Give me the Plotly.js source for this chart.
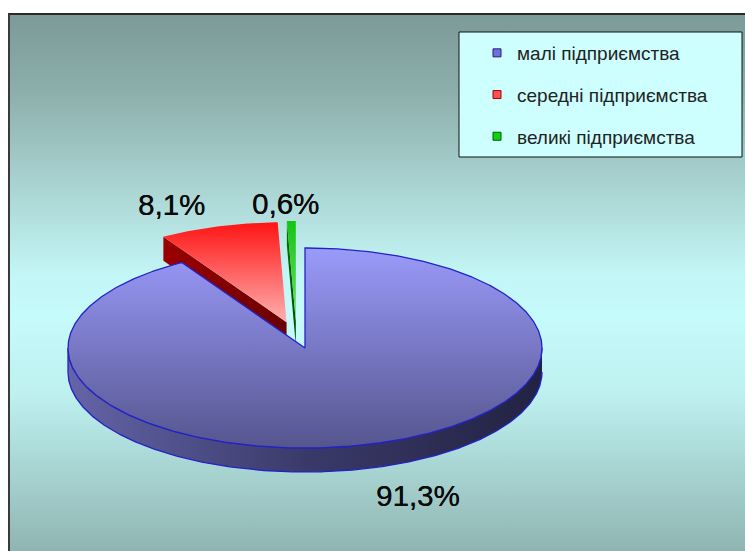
<!DOCTYPE html>
<html>
<head>
<meta charset="utf-8">
<script src="https://cdn.plot.ly/plotly-3.0.1.min.js"></script>
<style>
  html, body { margin: 0; padding: 0; background: #ffffff; width: 745px; height: 551px; overflow: hidden; }
  #bg {
    position: absolute; left: 8px; top: 13px; width: 737px; height: 538px;
    border-left: 2px solid #3a3a3a; border-top: 2px solid #2a2a2a; box-sizing: border-box;
    background: linear-gradient(to bottom, #7c9a97 0px, #8db0ad 80px, #a9d3d1 170px, #c3f6f6 260px, #c6fbfb 300px, #bdf0ef 380px, #a9d6d4 450px, #8fb4b1 538px);
  }
  #chart { position: absolute; left: 0; top: 0; width: 745px; height: 551px; }
</style>
</head>
<body>
<div id="bg"></div>
<div id="chart"></div>
<script>
// ---- data ----
const categories = ['малі підприємства', 'середні підприємства', 'великі підприємства'];
const shares = [91.3, 8.1, 0.6];

// ---- styling / geometry (pixel-calibrated axes) ----
const W = 745, H = 551;
const CX = 305, CY = 348, RX = 237, RY = 100, DEPTH = 24;
const explode = [0, 0.27, 0.27];
const extraShiftX = [0, 0, -8];
const topColors = [['#9a9afa', '#55558e'], ['#ff1414', '#ffb0b0'], ['#14c414', '#6ee06e']];
const wallColors = [['#6464a8', '#3a3a6a', '#222242'], ['#9a0000', '#6a0000'], ['#007000', '#004a00']];
const legendColors = ['#7070d8', '#ff5050', '#10d010'];
const legendLine = ['#202080', '#a00000', '#006000'];
const labelPos = [[418, 495], [171, 204], [285, 203]];

const total = shares.reduce((a, b) => a + b, 0);
const rad = d => d * Math.PI / 180;
function P(cx, cy, a, dz) { return [cx + RX * Math.sin(rad(a)), cy - RY * Math.cos(rad(a)) + (dz || 0)]; }
function arc(cx, cy, a0, a1, dz) {
  const pts = []; const n = Math.max(2, Math.ceil(Math.abs(a1 - a0) / 0.5));
  for (let i = 0; i <= n; i++) pts.push(P(cx, cy, a0 + (a1 - a0) * i / n, dz));
  return pts;
}

const slices = [];
let acc = 0;
shares.forEach((v, i) => {
  const a0 = acc / total * 360; acc += v; const a1 = acc / total * 360;
  const mid = (a0 + a1) / 2;
  const cx = CX + explode[i] * RX * Math.sin(rad(mid)) + extraShiftX[i];
  const cy = CY - explode[i] * RY * Math.cos(rad(mid));
  slices.push({ i, a0, a1, cx, cy });
});

const traces = [];
function poly(pts, extra) {
  const t = Object.assign({ x: pts.map(p => p[0]), y: pts.map(p => p[1]), type: 'scatter', mode: 'lines',
    fill: 'toself', hoverinfo: 'skip', showlegend: false }, extra);
  traces.push(t);
}

// back (exploded) slices first, then the big front slice
const order = [1, 2, 0];
order.forEach(i => {
  const s = slices[i];
  if (i !== 0) {
    const pr = P(s.cx, s.cy, s.a0);
    const wall = [[s.cx, s.cy], pr, [pr[0], pr[1] + DEPTH], [s.cx, s.cy + DEPTH]];
    poly(wall, { line: { width: 0, color: wallColors[i][1] },
      fillgradient: { type: 'horizontal', start: pr[0], stop: s.cx,
        colorscale: [[0, wallColors[i][0]], [1, wallColors[i][1]]] } });
  } else {
    const b0 = Math.max(s.a0, 90), b1 = Math.min(s.a1, 270);
    const topArc = arc(s.cx, s.cy, b0, b1, 0);
    const botArc = arc(s.cx, s.cy, b1, b0, DEPTH);
    poly(topArc.concat(botArc), { line: { width: 1.3, color: '#2222c8' },
      fillgradient: { type: 'horizontal', start: s.cx - RX, stop: s.cx + RX,
        colorscale: [[0, wallColors[0][0]], [0.5, wallColors[0][1]], [1, wallColors[0][2]]] } });
  }
  const top = [[s.cx, s.cy]].concat(arc(s.cx, s.cy, s.a0, s.a1, 0)).concat([[s.cx, s.cy]]);
  poly(top, { line: { width: i === 0 ? 1.3 : 0, color: i === 0 ? '#2222c8' : topColors[i][0] },
    fillgradient: { type: 'vertical', start: s.cy - RY, stop: i === 0 ? s.cy + RY : s.cy,
      colorscale: [[0, topColors[i][0]], [1, topColors[i][1]]] } });
});

// legend entries
categories.forEach((c, i) => {
  traces.push({ x: [null], y: [null], type: 'scatter', mode: 'markers', name: c, legendgroup: 'g' + i,
    marker: { symbol: 'square', size: 8, color: legendColors[i], line: { width: 1, color: legendLine[i] } } });
});

const fmt = v => v.toFixed(1).replace('.', ',') + '%';
const annotations = shares.map((v, i) => ({
  x: labelPos[i][0], y: labelPos[i][1], xref: 'x', yref: 'y', text: fmt(v), showarrow: false,
  font: { family: 'Liberation Sans, Arial, sans-serif', size: 29.5, color: '#0a0a0a',
          shadow: '0.35px 0 0 #0a0a0a' },
  xanchor: 'center', yanchor: 'middle'
}));

const layout = {
  width: W, height: H,
  margin: { l: 0, r: 0, t: 0, b: 0, pad: 0 },
  paper_bgcolor: 'rgba(0,0,0,0)', plot_bgcolor: 'rgba(0,0,0,0)',
  xaxis: { range: [0, W], visible: false, fixedrange: true },
  yaxis: { range: [H, 0], visible: false, fixedrange: true },
  showlegend: true,
  legend: {
    x: 477 / W, y: 1 - 34 / H, xanchor: 'left', yanchor: 'top',
    bgcolor: 'rgba(0,0,0,0)', borderwidth: 0, tracegroupgap: 14,
    font: { family: 'Liberation Sans, Arial, sans-serif', size: 19, color: '#222222' }
  },
  shapes: [{ type: 'rect', xref: 'paper', yref: 'paper', x0: 459 / W, x1: 742 / W, y0: 1 - 157 / H, y1: 1 - 32 / H,
    fillcolor: '#cdffff', line: { color: '#111111', width: 1 }, layer: 'below' }],
  annotations: annotations
};

Plotly.newPlot('chart', traces, layout, { displayModeBar: false, staticPlot: true });
</script>
</body>
</html>
